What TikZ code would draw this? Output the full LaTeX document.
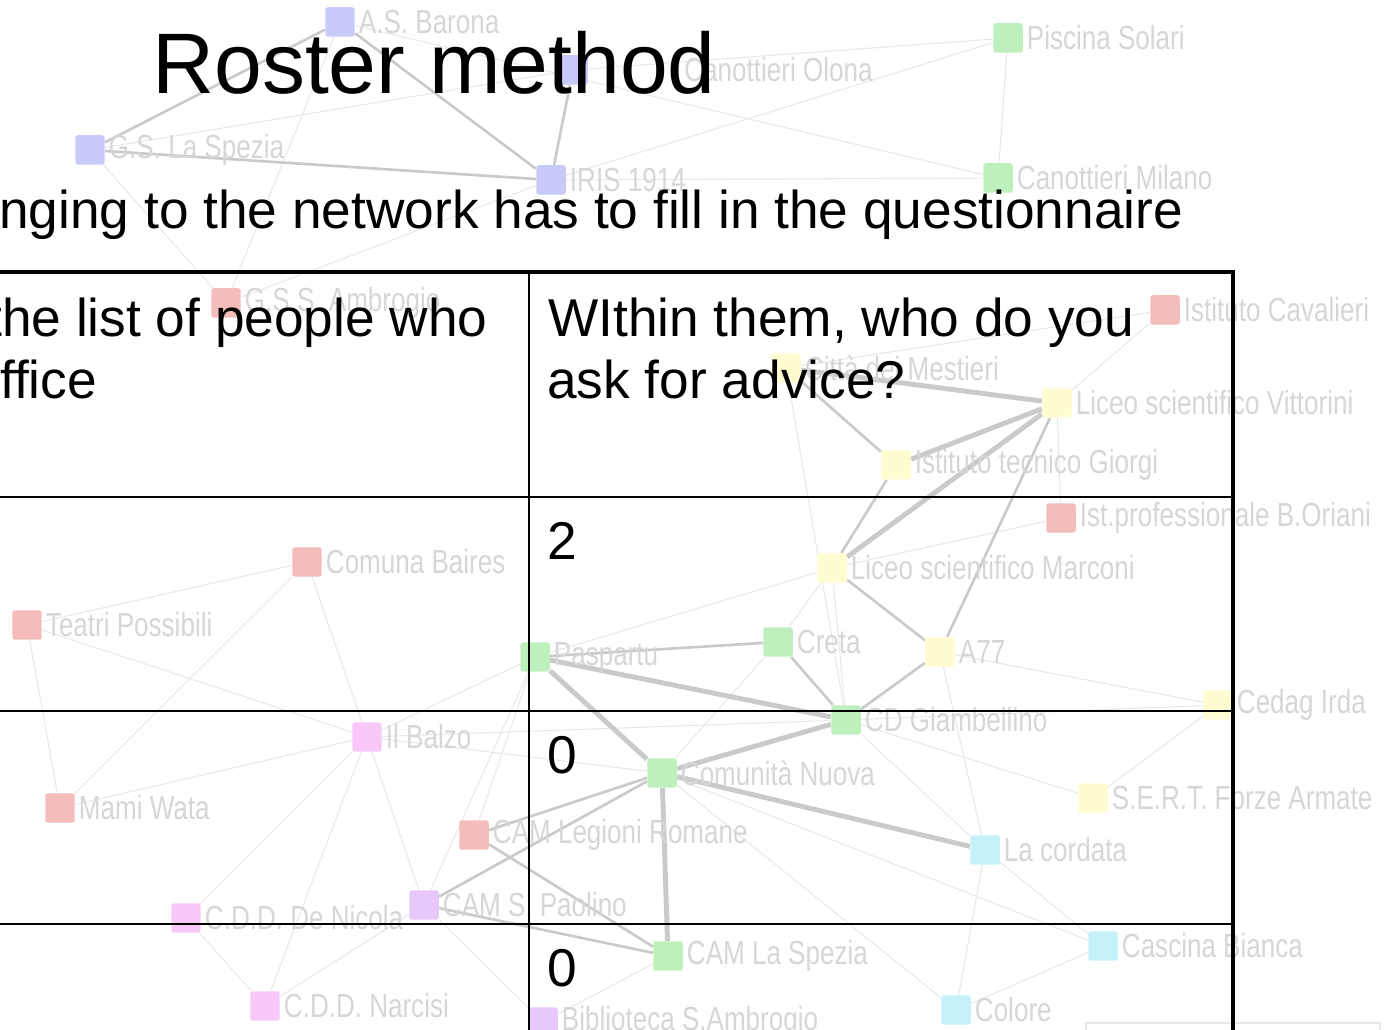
\documentclass[tikz,border=0pt]{standalone}
\usepackage{fontspec}
\setmainfont{Liberation Sans}
\newfontfamily\netfont[FakeStretch=0.78]{Liberation Sans}
\usetikzlibrary{positioning,backgrounds}
\definecolor{netblue}{RGB}{202,202,250}
\definecolor{netgreen}{RGB}{190,240,190}
\definecolor{netred}{RGB}{245,188,188}
\definecolor{netyellow}{RGB}{255,252,210}
\definecolor{netcyan}{RGB}{196,242,248}
\definecolor{netpink}{RGB}{248,200,248}
\definecolor{netviolet}{RGB}{232,200,250}
\definecolor{labelgray}{RGB}{214,214,214}
\definecolor{edgelight}{RGB}{232,232,232}
\definecolor{edgegray}{RGB}{202,202,202}

\begin{document}
\begin{tikzpicture}[x=0.02cm,y=-0.02cm,
  netnode/.style={rectangle,rounded corners=1.5pt,minimum size=0.59cm,inner sep=0pt},
  bluenode/.style={netnode,fill=netblue},
  greennode/.style={netnode,fill=netgreen},
  rednode/.style={netnode,fill=netred},
  yellownode/.style={netnode,fill=netyellow},
  cyannode/.style={netnode,fill=netcyan},
  pinknode/.style={netnode,fill=netpink},
  violetnode/.style={netnode,fill=netviolet},
  every label/.style={text=labelgray,font=\netfont\fontsize{19}{20}\selectfont,inner sep=0pt},
  label distance=2pt,
  thinedge/.style={draw=edgelight,line width=0.6pt},
  midedge/.style={draw=edgegray,line width=1.5pt},
  thickedge/.style={draw=edgegray,line width=2.8pt},
  slidetext/.style={anchor=base west,inner sep=0pt,font=\fontsize{30.3}{36}\selectfont},
  tableline/.style={line width=1.4pt}
]
\useasboundingbox (0,0) rectangle (1384,1030);
\clip (0,0) rectangle (1384,1030);

% the sports clubs
\node[bluenode,label=right:A.S. Barona] (barona) at (340,22) {};
\node[bluenode,label={[xshift=1.85cm]right:Canottieri Olona}] (olona) at (573,70) {};
\node[bluenode,label=right:G.S. La Spezia] (gsspezia) at (90,150) {};
\node[bluenode,label=right:IRIS 1914] (iris) at (551,180) {};
\node[greennode,label=right:Piscina Solari] (piscina) at (1008,38) {};
\node[greennode,label=right:Canottieri Milano] (milano) at (998,178) {};

% the schools
\node[rednode,label=right:G.S.S. Ambrogio] (ambrogio) at (226,303) {};
\node[rednode,label=right:Istituto Cavalieri] (cavalieri) at (1165,310) {};
\node[yellownode,label=right:Città dei Mestieri] (mestieri) at (786,368) {};
\node[yellownode,label=right:Liceo scientifico Vittorini] (vittorini) at (1057,403) {};
\node[yellownode,label=right:Istituto tecnico Giorgi] (giorgi) at (896,465) {};
\node[rednode,label=right:Ist.professionale B.Oriani] (oriani) at (1061,518) {};
\node[yellownode,label=right:Liceo scientifico Marconi] (marconi) at (832,568) {};
\node[yellownode,label=right:A77] (a77) at (940,652) {};
\node[yellownode,label=right:Cedag Irda] (cedag) at (1218,705) {};
\node[yellownode,label=right:S.E.R.T. Forze Armate] (sert) at (1093,798) {};

% the social services
\node[rednode,label=right:Comuna Baires] (baires) at (307,562) {};
\node[rednode,label=right:Teatri Possibili] (teatri) at (27,625) {};
\node[greennode,label=right:Paspartu] (paspartu) at (535,657) {};
\node[greennode,label=right:Creta] (creta) at (778,642) {};
\node[greennode,label=right:CD Giambellino] (giambellino) at (846,720) {};
\node[pinknode,label=right:Il Balzo] (balzo) at (367,737) {};
\node[greennode,label=right:Comunità Nuova] (nuova) at (662,773) {};
\node[rednode,label=right:Mami Wata] (mami) at (60,808) {};
\node[rednode,label=right:CAM Legioni Romane] (legioni) at (474,835) {};
\node[cyannode,label=right:La cordata] (cordata) at (985,850) {};
\node[violetnode,label=right:CAM S. Paolino] (paolino) at (424,905) {};
\node[pinknode,label=right:C.D.D. De Nicola] (denicola) at (186,918) {};
\node[cyannode,label=right:Cascina Bianca] (cascina) at (1103,946) {};
\node[greennode,label=right:CAM La Spezia] (camspezia) at (668,956) {};
\node[pinknode,label=right:C.D.D. Narcisi] (narcisi) at (265,1006) {};
\node[cyannode,label=right:Colore] (colore) at (956,1010) {};
\node[violetnode,label=right:Biblioteca S.Ambrogio] (biblioteca) at (543,1022) {};

% the ties
\begin{pgfonlayer}{background}
\draw[thinedge] (gsspezia) -- (olona) (barona) -- (milano) (iris) -- (piscina);
\draw[thinedge] (olona) -- (piscina) (piscina) -- (milano) (iris) -- (milano);
\draw[thinedge] (barona) -- (ambrogio) (gsspezia) -- (ambrogio) (iris) -- (ambrogio);
\draw[thinedge] (cavalieri) -- (mestieri) (cavalieri) -- (vittorini) (mestieri) -- (giambellino);
\draw[thinedge] (vittorini) -- (oriani) (oriani) -- (marconi) (marconi) -- (paspartu);
\draw[thinedge] (marconi) -- (creta) (marconi) -- (giambellino) (creta) -- (nuova);
\draw[thinedge] (a77) -- (cedag) (a77) -- (cordata) (cordata) -- (colore);
\draw[thinedge] (giambellino) -- (sert) (giambellino) -- (cedag) (sert) -- (cedag);
\draw[thinedge] (giambellino) -- (cordata) (nuova) -- (cascina) (nuova) -- (colore);
\draw[thinedge] (cordata) -- (cascina) (cascina) -- (colore) (camspezia) -- (biblioteca);
\draw[thinedge] (baires) -- (teatri) (baires) -- (mami) (baires) -- (balzo);
\draw[thinedge] (teatri) -- (mami) (teatri) -- (balzo) (balzo) -- (mami);
\draw[thinedge] (balzo) -- (denicola) (balzo) -- (narcisi) (balzo) -- (paolino);
\draw[thinedge] (balzo) -- (nuova) (balzo) -- (giambellino) (balzo) -- (paspartu);
\draw[thinedge] (paspartu) -- (paolino) (legioni) -- (paspartu) (denicola) -- (narcisi);
\draw[thinedge] (narcisi) -- (paolino) (paolino) -- (biblioteca);
\draw[midedge] (barona) -- (iris) (barona) -- (gsspezia) (gsspezia) -- (iris) (olona) -- (iris);
\draw[midedge] (mestieri) -- (giorgi) (vittorini) -- (a77) (giorgi) -- (marconi);
\draw[midedge] (marconi) -- (a77) (creta) -- (paspartu) (creta) -- (giambellino);
\draw[midedge] (a77) -- (giambellino) (nuova) -- (legioni) (nuova) -- (paolino);
\draw[midedge] (camspezia) -- (paolino) (camspezia) -- (legioni);
\draw[thickedge] (mestieri) -- (vittorini) (giorgi) -- (vittorini) (marconi) -- (vittorini);
\draw[thickedge] (paspartu) -- (giambellino) (paspartu) -- (nuova) (giambellino) -- (nuova);
\draw[thickedge] (nuova) -- (cordata) (nuova) -- (camspezia);
\end{pgfonlayer}
\draw[edgelight,line width=0.8pt] (1086,1023) rectangle (1380,1045);

% the slide
\node[anchor=base west,inner sep=0pt,font=\fontsize{48.9}{58}\selectfont] (title) at (152,94) {Roster method};
\node[slidetext] (intro) at (-1,229) {nging to the network has to fill in the questionnaire};
\node[slidetext] (lefthead1) at (-13,337) {the list of people who};
\node[slidetext] (lefthead2) at (0,399) {ffice};
\node[slidetext] (righthead1) at (548,337) {WIthin them, who do you};
\node[slidetext] (righthead2) at (547,399) {ask for advice?};
\node[slidetext] (cellb) at (547,560) {2};
\node[slidetext] (cellc) at (547,773) {0};
\node[slidetext] (celld) at (547,986) {0};

% the table
\draw[line width=2.3pt] (0,272) -- (1235,272);
\draw[line width=2.8pt] (1233,271) -- (1233,1030);
\draw[tableline] (529,272) -- (529,1030);
\draw[tableline] (0,497) -- (1233,497) (0,711) -- (1233,711) (0,924) -- (1233,924);
\end{tikzpicture}
\end{document}
